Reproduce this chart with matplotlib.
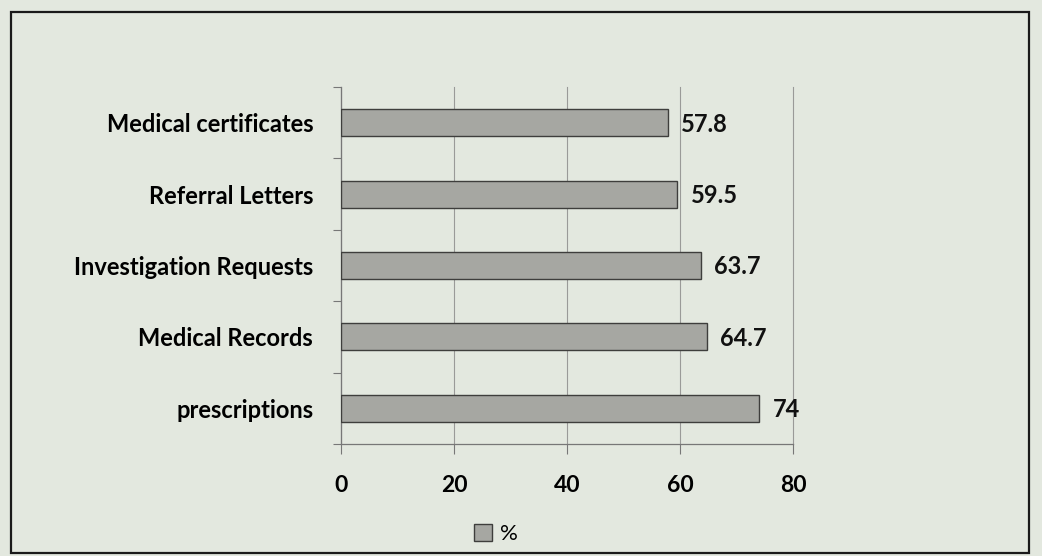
import matplotlib.pyplot as plt
import matplotlib.patches as patches
import numpy as np

# Documents issued (%)
categories = ["Medical certificates", "Referral Letters", "Investigation Requests",
              "Medical Records", "prescriptions"]
values = [57.8, 59.5, 63.7, 64.7, 74]
value_labels = ["57.8", "59.5", "63.7", "64.7", "74"]
x_ticks = [0, 20, 40, 60, 80]

bg = "#e3e8df"
bar_color = "#a6a7a2"
font = "Lato"

W, H = 1042, 556
fig = plt.figure(figsize=(W / 100, H / 100), dpi=100)
fig.patch.set_facecolor(bg)

# plot area in pixels
x0, x1 = 341, 793
y_top, y_bot = 87, 444
ax = fig.add_axes([x0 / W, 1 - y_bot / H, (x1 - x0) / W, (y_bot - y_top) / H])
ax.set_facecolor(bg)

y = np.arange(len(categories))
ax.barh(y, values, height=0.38, color=bar_color, edgecolor="#3e3e3c",
        linewidth=1.0, label="%", zorder=3)

for yi, v, lab in zip(y, values, value_labels):
    ax.text(v + 2.4, yi + 0.02, lab, va="center", ha="left", fontsize=17,
            fontweight="bold", family=font, color="#111111")

ax.set_xlim(0, 80)
ax.set_ylim(len(categories) - 0.5, -0.5)
ax.set_xticks(x_ticks)
ax.set_xticklabels([str(t) for t in x_ticks], fontsize=16.5, fontweight="bold", family=font)
ax.set_yticks(y)
ax.set_yticklabels(categories, fontsize=17, fontweight="bold", family=font)
ax.set_yticks(np.arange(-0.5, len(categories)), minor=True)

ax.tick_params(axis="y", which="major", length=0, pad=20)
ax.tick_params(axis="y", which="minor", length=6, width=0.8, color="#777777", direction="out")
ax.tick_params(axis="x", length=7, width=0.8, color="#777777", pad=15)

ax.grid(axis="x", color="#9a9a98", linewidth=0.8, zorder=0)
ax.set_axisbelow(True)
# keep the last gridline (at 80) fully drawn at the axis edge
for gl in ax.get_xgridlines():
    gl.set_clip_on(False)
for side in ["top", "right"]:
    ax.spines[side].set_visible(False)
for side in ["left", "bottom"]:
    ax.spines[side].set_color("#777777")
    ax.spines[side].set_linewidth(0.9)

# legend under the axis
fig.legend(loc="center", bbox_to_anchor=(496 / W, 1 - 534 / H), frameon=False,
           prop={"family": font, "size": 16}, handlelength=0.8, handleheight=0.8,
           handletextpad=0.4)

# outer frame
frame = patches.Rectangle((11 / W, 1 - 553 / H), (1029 - 11) / W, (553 - 12) / H,
                          transform=fig.transFigure, fill=False,
                          edgecolor="#1a1a1a", linewidth=1.6)
fig.patches.append(frame)

fig.savefig("out.png", dpi=100, facecolor=bg)
